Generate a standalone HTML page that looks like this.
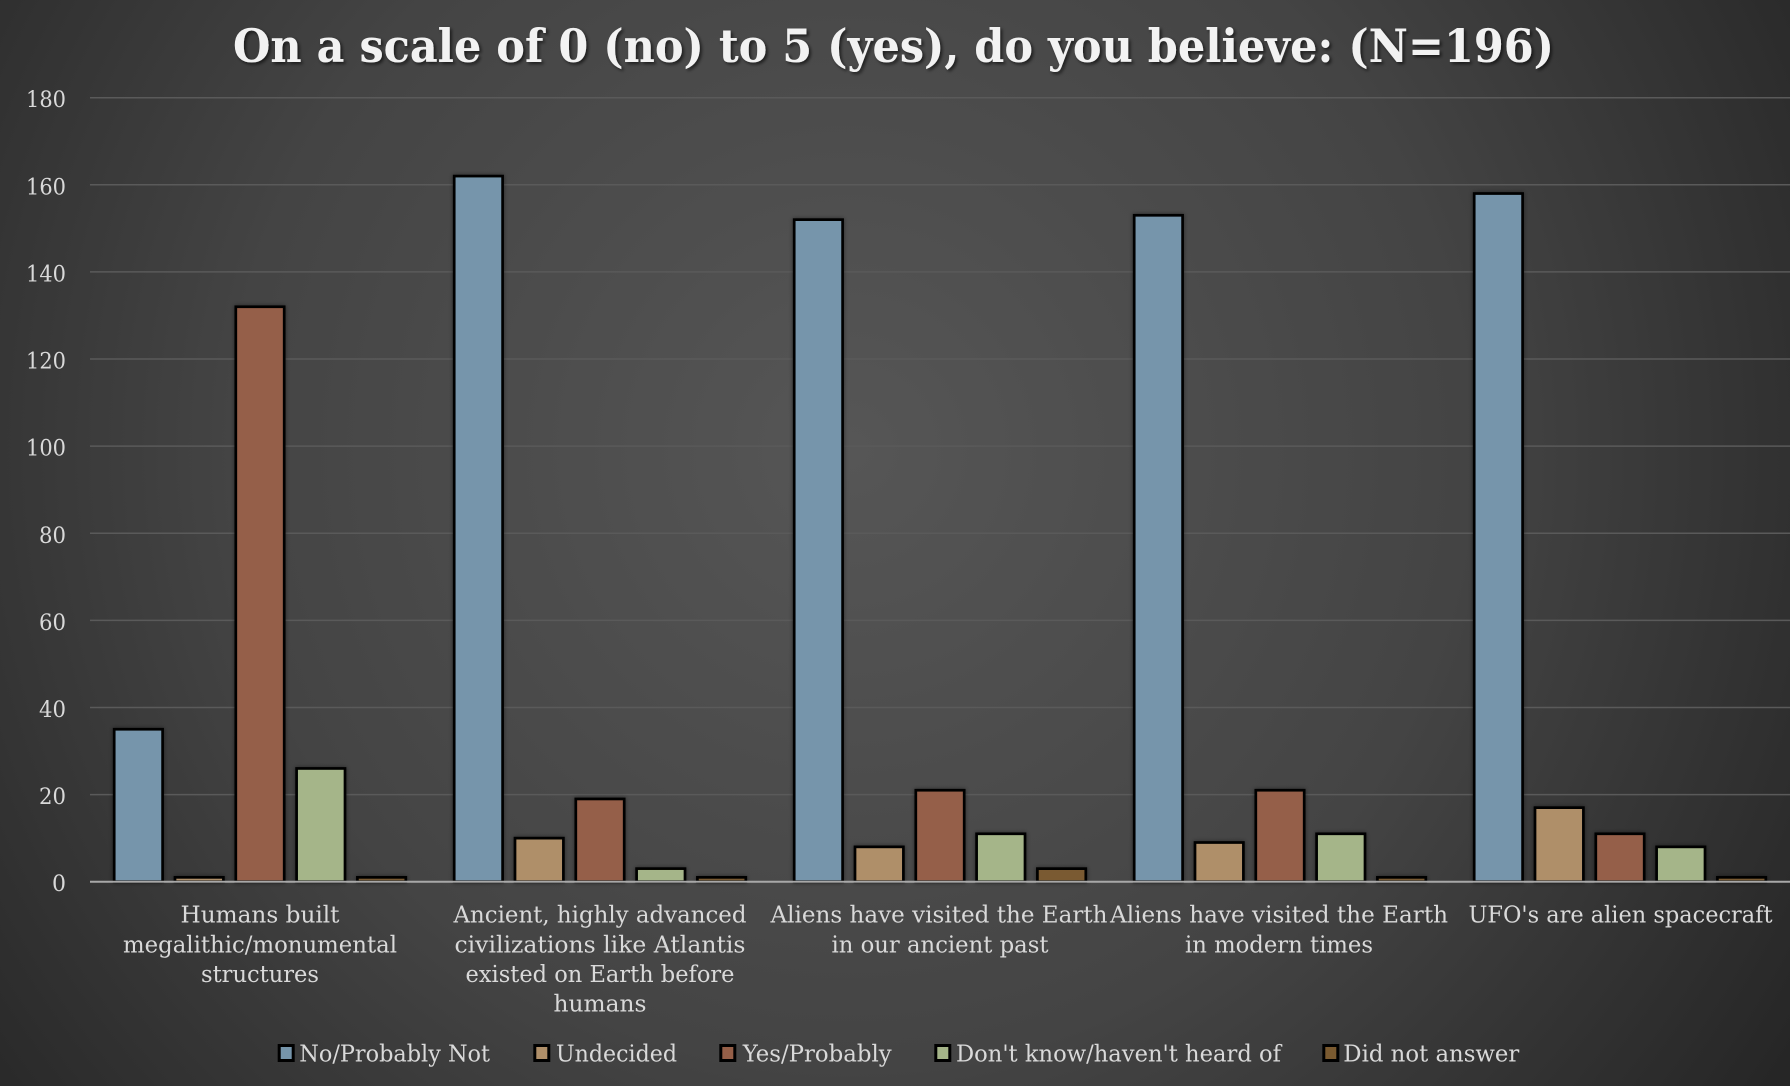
<!DOCTYPE html>
<html>
<head>
<meta charset="utf-8">
<style>
  html, body { margin:0; padding:0; background:#333; }
  svg { display:block; }
  .lbl { font-family: "DejaVu Serif", "Liberation Serif", serif; font-size:23px; fill:#d9d9d9; }
  .tick { font-family: "DejaVu Serif", "Liberation Serif", serif; font-size:22px; fill:#d9d9d9; text-anchor:end; }
  .title { font-family: "DejaVu Serif", "Liberation Serif", serif; font-weight:bold; font-size:46px; fill:#f2f2f2; }
</style>
</head>
<body>
<svg width="1790" height="1086" viewBox="0 0 1790 1086" xmlns="http://www.w3.org/2000/svg">
  <defs>
    <radialGradient id="bg" gradientUnits="userSpaceOnUse" cx="850" cy="450" r="1120">
      <stop offset="0" stop-color="#565656"/>
      <stop offset="0.55" stop-color="#444444"/>
      <stop offset="1" stop-color="#262626"/>
    </radialGradient>
    <filter id="tsh" x="-5%" y="-30%" width="110%" height="160%">
      <feDropShadow dx="2" dy="2" stdDeviation="1.5" flood-color="#000" flood-opacity="0.6"/>
    </filter>
    <filter id="bsh" x="-20%" y="-5%" width="140%" height="110%">
      <feDropShadow dx="0" dy="0" stdDeviation="2" flood-color="#000" flood-opacity="0.45"/>
    </filter>
  </defs>
  <rect x="0" y="0" width="1790" height="1086" fill="url(#bg)"/>

  <!-- title -->
  <text class="title" x="233" y="62" textLength="1321" lengthAdjust="spacingAndGlyphs" filter="url(#tsh)">On a scale of 0 (no) to 5 (yes), do you believe: (N=196)</text>

  <!-- gridlines -->
  <g stroke="#5a5a5a" stroke-width="1.5">
    <line x1="90" x2="1790" y1="97.7" y2="97.7"/>
    <line x1="90" x2="1790" y1="184.8" y2="184.8"/>
    <line x1="90" x2="1790" y1="271.9" y2="271.9"/>
    <line x1="90" x2="1790" y1="359.0" y2="359.0"/>
    <line x1="90" x2="1790" y1="446.1" y2="446.1"/>
    <line x1="90" x2="1790" y1="533.3" y2="533.3"/>
    <line x1="90" x2="1790" y1="620.4" y2="620.4"/>
    <line x1="90" x2="1790" y1="707.5" y2="707.5"/>
    <line x1="90" x2="1790" y1="794.6" y2="794.6"/>
  </g>

  <!-- tick labels -->
  <g class="tick">
    <text x="66" y="107.2" textLength="40" lengthAdjust="spacingAndGlyphs">180</text>
    <text x="66" y="194.3" textLength="40" lengthAdjust="spacingAndGlyphs">160</text>
    <text x="66" y="281.4" textLength="40" lengthAdjust="spacingAndGlyphs">140</text>
    <text x="66" y="368.5" textLength="40" lengthAdjust="spacingAndGlyphs">120</text>
    <text x="66" y="455.6" textLength="40" lengthAdjust="spacingAndGlyphs">100</text>
    <text x="66" y="542.8" textLength="27" lengthAdjust="spacingAndGlyphs">80</text>
    <text x="66" y="629.9" textLength="27" lengthAdjust="spacingAndGlyphs">60</text>
    <text x="66" y="717.0" textLength="27" lengthAdjust="spacingAndGlyphs">40</text>
    <text x="66" y="804.1" textLength="27" lengthAdjust="spacingAndGlyphs">20</text>
    <text x="66" y="891.2" textLength="14" lengthAdjust="spacingAndGlyphs">0</text>
  </g>

  <!-- bars -->
  <g stroke="#000" stroke-width="2.7" filter="url(#bsh)">
    <!-- group 1 -->
    <rect x="114.2" y="729.25" width="48.4" height="152.45" fill="#7695AB"/>
    <rect x="175.0" y="877.34" width="48.4" height="4.36" fill="#AF8F69"/>
    <rect x="235.8" y="306.76" width="48.4" height="574.94" fill="#955F48"/>
    <rect x="296.6" y="768.45" width="48.4" height="113.25" fill="#A5B589"/>
    <rect x="357.4" y="877.34" width="48.4" height="4.36" fill="#7A5A30"/>
    <!-- group 2 -->
    <rect x="454.2" y="176.09" width="48.4" height="705.61" fill="#7695AB"/>
    <rect x="515.0" y="838.14" width="48.4" height="43.56" fill="#AF8F69"/>
    <rect x="575.8" y="798.94" width="48.4" height="82.76" fill="#955F48"/>
    <rect x="636.6" y="868.63" width="48.4" height="13.07" fill="#A5B589"/>
    <rect x="697.4" y="877.34" width="48.4" height="4.36" fill="#7A5A30"/>
    <!-- group 3 -->
    <rect x="794.2" y="219.65" width="48.4" height="662.05" fill="#7695AB"/>
    <rect x="855.0" y="846.86" width="48.4" height="34.84" fill="#AF8F69"/>
    <rect x="915.8" y="790.23" width="48.4" height="91.47" fill="#955F48"/>
    <rect x="976.6" y="833.79" width="48.4" height="47.91" fill="#A5B589"/>
    <rect x="1037.4" y="868.63" width="48.4" height="13.07" fill="#7A5A30"/>
    <!-- group 4 -->
    <rect x="1134.2" y="215.29" width="48.4" height="666.41" fill="#7695AB"/>
    <rect x="1195.0" y="842.50" width="48.4" height="39.20" fill="#AF8F69"/>
    <rect x="1255.8" y="790.23" width="48.4" height="91.47" fill="#955F48"/>
    <rect x="1316.6" y="833.79" width="48.4" height="47.91" fill="#A5B589"/>
    <rect x="1377.4" y="877.34" width="48.4" height="4.36" fill="#7A5A30"/>
    <!-- group 5 -->
    <rect x="1474.2" y="193.52" width="48.4" height="688.18" fill="#7695AB"/>
    <rect x="1535.0" y="807.65" width="48.4" height="74.05" fill="#AF8F69"/>
    <rect x="1595.8" y="833.79" width="48.4" height="47.91" fill="#955F48"/>
    <rect x="1656.6" y="846.86" width="48.4" height="34.84" fill="#A5B589"/>
    <rect x="1717.4" y="877.34" width="48.4" height="4.36" fill="#7A5A30"/>
  </g>

  <!-- axis line -->
  <line x1="90" x2="1790" y1="881.7" y2="881.7" stroke="#a8a8a8" stroke-width="2"/>

  <!-- category labels -->
  <g class="lbl" text-anchor="middle">
    <text x="260" y="922.7" textLength="159" lengthAdjust="spacingAndGlyphs">Humans built</text>
    <text x="260" y="952.7" textLength="274" lengthAdjust="spacingAndGlyphs">megalithic/monumental</text>
    <text x="260" y="982.2" textLength="118" lengthAdjust="spacingAndGlyphs">structures</text>

    <text x="600" y="922.7" textLength="293" lengthAdjust="spacingAndGlyphs">Ancient, highly advanced</text>
    <text x="600" y="952.7" textLength="291" lengthAdjust="spacingAndGlyphs">civilizations like Atlantis</text>
    <text x="600" y="982.2" textLength="269" lengthAdjust="spacingAndGlyphs">existed on Earth before</text>
    <text x="600" y="1011.7" textLength="93" lengthAdjust="spacingAndGlyphs">humans</text>

    <text x="939" y="922.7" textLength="337" lengthAdjust="spacingAndGlyphs">Aliens have visited the Earth</text>
    <text x="940" y="952.7" textLength="217" lengthAdjust="spacingAndGlyphs">in our ancient past</text>

    <text x="1279" y="922.7" textLength="338" lengthAdjust="spacingAndGlyphs">Aliens have visited the Earth</text>
    <text x="1279" y="952.7" textLength="188" lengthAdjust="spacingAndGlyphs">in modern times</text>

    <text x="1620.5" y="922.7" textLength="304" lengthAdjust="spacingAndGlyphs">UFO's are alien spacecraft</text>
  </g>

  <!-- legend -->
  <g stroke="#000" stroke-width="3">
    <rect x="279.2" y="1045.5" width="14" height="15" fill="#7695AB"/>
    <rect x="534.8" y="1045.5" width="14" height="15" fill="#AF8F69"/>
    <rect x="720.8" y="1045.5" width="14" height="15" fill="#955F48"/>
    <rect x="935.8" y="1045.5" width="14" height="15" fill="#A5B589"/>
    <rect x="1323.8" y="1045.5" width="14" height="15" fill="#7A5A30"/>
  </g>
  <g class="lbl">
    <text x="299.3" y="1061.7" textLength="190.7" lengthAdjust="spacingAndGlyphs">No/Probably Not</text>
    <text x="556" y="1061.7" textLength="121" lengthAdjust="spacingAndGlyphs">Undecided</text>
    <text x="742.7" y="1061.7" textLength="149" lengthAdjust="spacingAndGlyphs">Yes/Probably</text>
    <text x="956" y="1061.7" textLength="325" lengthAdjust="spacingAndGlyphs">Don't know/haven't heard of</text>
    <text x="1343.3" y="1061.7" textLength="176" lengthAdjust="spacingAndGlyphs">Did not answer</text>
  </g>
</svg>
</body>
</html>
